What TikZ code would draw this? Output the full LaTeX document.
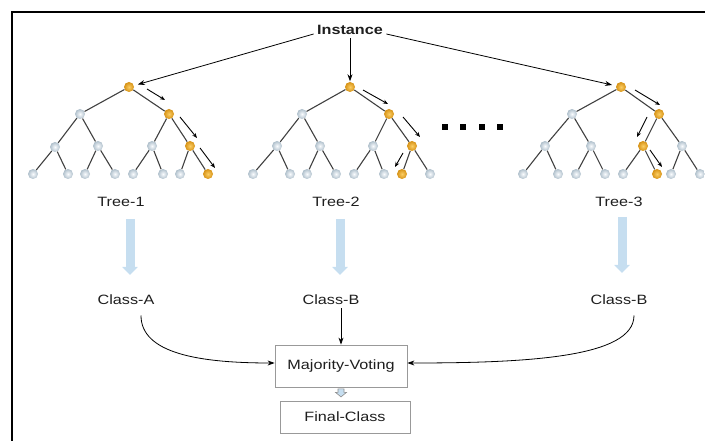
\documentclass[tikz,border=0pt]{standalone}
\usepackage{fontspec}
\setmainfont{Liberation Sans}[FakeStretch=1.2]
\usetikzlibrary{arrows.meta,calc}
\definecolor{orblight}{RGB}{252,206,100}
\definecolor{orb}{RGB}{214,146,22}
\definecolor{palelight}{RGB}{250,252,254}
\definecolor{pale}{RGB}{176,192,204}
\definecolor{flow}{RGB}{198,222,240}
\definecolor{ink}{RGB}{30,30,30}
\begin{document}
\begin{tikzpicture}[x=1pt,y=-1pt,
  leaf/.style={circle,inner sep=0pt,minimum size=10pt,shading=radial,
    inner color=palelight,outer color=pale},
  hit/.style={leaf,inner color=orblight,outer color=orb},
  branch/.style={draw=black!75,line width=1.1pt},
  walk/.style={draw=black,line width=0.9pt,-{Stealth[length=5pt,width=4pt]}},
  feed/.style={draw=black,line width=0.8pt,-{Stealth[length=7pt,width=5pt]}},
  txt/.style={font=\fontsize{13.5}{16}\selectfont,text=ink},
  box/.style={txt,draw=black!40,line width=0.8pt},
  flowarrow/.style={draw=flow,line width=9pt,-{Triangle[width=15pt,length=8pt]}},
  dot/.style={fill=black,inner sep=0pt,minimum size=5.5pt}]
\useasboundingbox (0,0) rectangle (705,441);
% frame
\draw[line width=1.8pt] (12,441) -- (12,12) -- (705,12);

% ---- tree 1 ----
\node[hit]  (a0) at (129,87) {};
\node[leaf] (a1) at (80,114) {};
\node[hit]  (a2) at (169,114) {};
\node[leaf] (a3) at (55,147) {};
\node[leaf] (a4) at (98,146) {};
\node[leaf] (a5) at (152,146) {};
\node[hit]  (a6) at (190,146) {};
\foreach \n/\x in {7/33,8/68,9/85,10/115,11/133,12/163,13/180}
  \node[leaf] (a\n) at (\x,174) {};
\node[hit] (a14) at (208,174) {};

% ---- tree 2 ----
\node[hit]  (b0) at (350,87) {};
\node[leaf] (b1) at (302,114) {};
\node[hit]  (b2) at (389,114) {};
\node[leaf] (b3) at (277,146) {};
\node[leaf] (b4) at (320,146) {};
\node[leaf] (b5) at (373,146) {};
\node[hit]  (b6) at (412,146) {};
\foreach \n/\x in {7/253,8/290,9/307,10/336,11/354,12/384,14/430}
  \node[leaf] (b\n) at (\x,174) {};
\node[hit] (b13) at (402,174) {};

% ---- tree 3 ----
\node[hit]  (c0) at (621,87) {};
\node[leaf] (c1) at (572,114) {};
\node[hit]  (c2) at (659,114) {};
\node[leaf] (c3) at (545,146) {};
\node[leaf] (c4) at (591,146) {};
\node[hit]  (c5) at (643,146) {};
\node[leaf] (c6) at (682,146) {};
\foreach \n/\x in {7/523,8/558,9/576,10/605,11/623,13/671,14/700}
  \node[leaf] (c\n) at (\x,174) {};
\node[hit] (c12) at (657,174) {};

% branches
\foreach \t in {a,b,c}
  \foreach \p/\c in {0/1,0/2,1/3,1/4,2/5,2/6,3/7,3/8,4/9,4/10,5/11,5/12,6/13,6/14}
    \draw[branch] (\t\p) -- (\t\c);

% decision paths
\coordinate (w1s) at (147,89);  \coordinate (w1e) at (165,100);
\coordinate (w2s) at (180,117); \coordinate (w2e) at (197,138);
\coordinate (w3s) at (200,148); \coordinate (w3e) at (215,168);
\coordinate (w4s) at (363,90);  \coordinate (w4e) at (388,104);
\coordinate (w5s) at (403,117); \coordinate (w5e) at (420,137);
\coordinate (w6s) at (403,153); \coordinate (w6e) at (395,167);
\coordinate (w7s) at (635,90);  \coordinate (w7e) at (660,105);
\coordinate (w8s) at (647,117); \coordinate (w8e) at (637,137);
\coordinate (w9s) at (650,150); \coordinate (w9e) at (662,167);
\foreach \k in {1,...,9}
  \draw[walk] (w\k s) -- (w\k e);

% ellipsis between trees
\foreach \x in {445,463,482,500}
  \node[dot] at (\x,127) {};

% instance and its links to the trees
\node[txt,font=\fontsize{13.5}{16}\selectfont\bfseries] (inst) at (350,30) {Instance};
\draw[feed,shorten >=4pt] ([yshift=-4pt]inst.west) -- (a0);
\draw[feed,shorten >=0.5pt] (inst.south) -- (b0);
\draw[feed,shorten >=4pt] ([yshift=-4pt]inst.east) -- (c0);

% tree names and class outputs
\node[txt] (t1) at (121,202) {Tree-1};
\node[txt] (t2) at (336,202) {Tree-2};
\node[txt] (t3) at (619,202) {Tree-3};
\node[txt] (ca) at (126,300) {Class-A};
\node[txt] (cb) at (331,300) {Class-B};
\node[txt] (cc) at (619,300) {Class-B};

\coordinate (f1s) at (130,219); \coordinate (f1e) at (130,275);
\coordinate (f2s) at (340,219); \coordinate (f2e) at (340,275);
\coordinate (f3s) at (622,217); \coordinate (f3e) at (622,273);
\foreach \k in {1,2,3}
  \draw[flowarrow] (f\k s) -- (f\k e);

% voting
\node[box,minimum width=132pt,minimum height=42pt] (mv) at (341,366) {Majority-Voting};
\node[box,minimum width=130pt,minimum height=32pt] (fc) at (345,417) {Final-Class};

\draw[feed] ($(ca.south)+(15,7)$) .. controls +(0,38) and +(-75,0) .. ([yshift=3pt]mv.west);
\draw[feed] (cb.south -| mv.north) -- (mv.north);
\draw[feed] ($(cc.south)+(15,7)$) .. controls +(0,42) and +(120,0) .. ([yshift=3pt]mv.east);

% small hollow arrow from voting to the final class
\begin{scope}[shift={(mv.south)}]
  \filldraw[fill=flow,draw=black!45,line width=0.6pt]
    (-3,1.5) -- (3,1.5) -- (3,5) -- (5.5,5) -- (0,9.5) -- (-5.5,5) -- (-3,5) -- cycle;
\end{scope}
\end{tikzpicture}
\end{document}
